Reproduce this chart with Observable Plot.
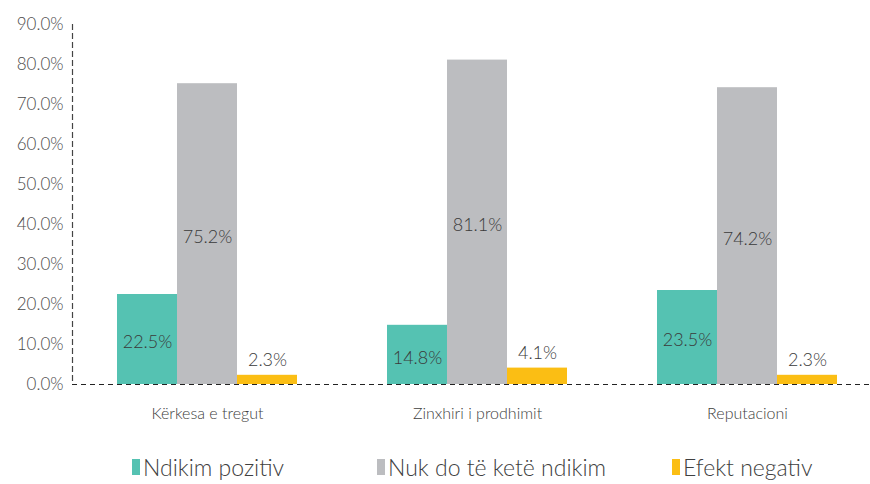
<!DOCTYPE html>
<html>
<head>
<meta charset="utf-8">
<script src="https://cdn.jsdelivr.net/npm/d3@7"></script>
<script src="https://cdn.jsdelivr.net/npm/@observablehq/plot@0.6"></script>
<style>
  body { margin: 0; background: #fff; font-family: Lato, "DejaVu Sans", sans-serif; }
  #chart { width: 870px; }
  .legend { position: relative; height: 44px; width: 870px; }
  .legend .item { position: absolute; top: 14px; display: flex; align-items: center; font-size: 23px; font-weight: 300; color: #404040; white-space: nowrap; line-height: 26px; }
  .legend .sw { width: 8px; height: 16px; margin-right: 3px; display: inline-block; }
</style>
</head>
<body>
<div id="chart"></div>
<script>
const categories = ["Kërkesa e tregut", "Zinxhiri i prodhimit", "Reputacioni"];
const series = ["Ndikim pozitiv", "Nuk do të ketë ndikim", "Efekt negativ"];
const colors = ["#55C2B2", "#BCBDC0", "#FBBE14"];
const positive = [22.5, 14.8, 23.5];
const noImpact = [75.2, 81.1, 74.2];
const negative = [2.3, 4.1, 2.3];
const yTicks = [0, 10, 20, 30, 40, 50, 60, 70, 80, 90];
const legendX = [132, 377, 672];

const valuesBySeries = [positive, noImpact, negative];
const data = [];
categories.forEach((c, i) => series.forEach((s, j) => data.push({cat: c, s, v: valuesBySeries[j][i], j})));
const inside = data.filter(d => d.j < 2);
const outside = data.filter(d => d.j === 2);
const fmt = v => v.toFixed(1) + "%";

const plot = Plot.plot({
  width: 870,
  height: 440,
  marginLeft: 72,
  marginRight: 0,
  marginTop: 24,
  marginBottom: 56,
  style: { fontFamily: "Lato, sans-serif", fontWeight: 300, color: "#404040", background: "#fff" },
  fx: { domain: categories, range: [72, 882], padding: 0, label: null },
  x: { domain: series, paddingInner: 0, paddingOuter: 0.75, axis: null },
  y: { domain: [0, 90], axis: null },
  color: { domain: series, range: colors },
  marks: [
    Plot.barY(data, { fx: "cat", x: "s", y: "v", fill: "s" }),
    Plot.ruleY([0], { stroke: "#222", strokeWidth: 1.2, strokeDasharray: "5,4" }),
    Plot.frame({ anchor: "left", facetAnchor: "left", stroke: "#444", strokeWidth: 1.2, strokeDasharray: "5,4" }),
    Plot.axisY(yTicks, { anchor: "left", tickSize: 0, tickPadding: 9, tickFormat: d => d.toFixed(1) + "%", fontSize: 17, fill: "#4a4a4a", label: null }),
    Plot.axisFx({ anchor: "bottom", tickSize: 0, tickPadding: 23, fontSize: 16, fill: "#404040", label: null }),
    Plot.text(inside, { fx: "cat", x: "s", y: d => d.v / 2, text: d => fmt(d.v), fontSize: 18, fill: "#3a3a3a", dy: 3 }),
    Plot.text(outside, { fx: "cat", x: "s", y: "v", text: d => fmt(d.v), fontSize: 18, fill: "#3a3a3a", lineAnchor: "bottom", dy: -9 })
  ]
});
document.getElementById("chart").appendChild(plot);

const legend = document.createElement("div");
legend.className = "legend";
series.forEach((s, i) => {
  const item = document.createElement("div");
  item.className = "item";
  item.style.left = legendX[i] + "px";
  const sw = document.createElement("span");
  sw.className = "sw";
  sw.style.background = colors[i];
  const t = document.createElement("span");
  t.textContent = s;
  item.appendChild(sw);
  item.appendChild(t);
  legend.appendChild(item);
});
document.body.appendChild(legend);
</script>
</body>
</html>
